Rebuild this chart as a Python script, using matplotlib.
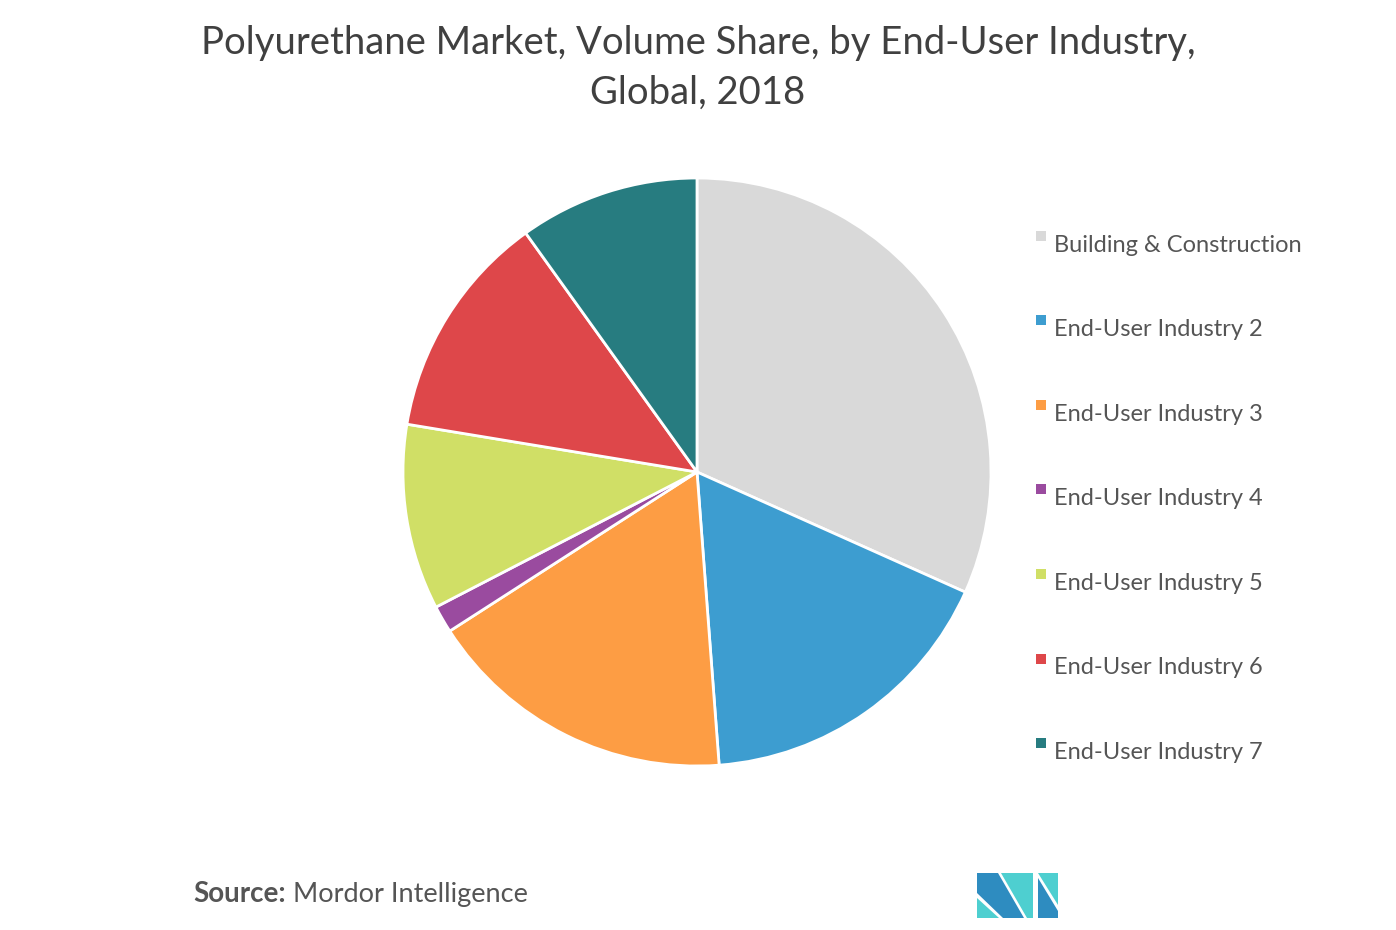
import matplotlib
matplotlib.use("Agg")
import matplotlib.pyplot as plt
from matplotlib.patches import Rectangle, Polygon

# --- data ---
labels = ['Building & Construction', 'End-User Industry 2', 'End-User Industry 3',
          'End-User Industry 4', 'End-User Industry 5', 'End-User Industry 6',
          'End-User Industry 7']
shares = [31.7, 17.1, 17.1, 1.5, 10.2, 12.5, 9.9]
colors = ['#D9D9D9', '#3D9DD0', '#FD9D44', '#9A4B9F', '#D0DF66', '#DE474A', '#277C80']

plt.rcParams['font.family'] = ['Lato', 'DejaVu Sans']

W, H = 1396, 930
fig = plt.figure(figsize=(W / 100, H / 100), dpi=100)
fig.patch.set_facecolor('white')

# --- pie ---
cx, cy, r = 697, 472, 294
ax = fig.add_axes([(cx - r) / W, (H - cy - r) / H, 2 * r / W, 2 * r / H])
ax.pie(shares, colors=colors, startangle=90, counterclock=False, radius=1,
       wedgeprops=dict(edgecolor='white', linewidth=2))
ax.set_xlim(-1, 1)
ax.set_ylim(-1, 1)
ax.set_aspect('equal')
ax.axis('off')

# --- title ---
fig.text(0.5, 1 - 43 / H, 'Polyurethane Market, Volume Share, by End-User Industry,',
         ha='center', va='center', fontsize=27.5, color='#404040')
fig.text(0.5, 1 - 93 / H, 'Global, 2018',
         ha='center', va='center', fontsize=27.5, color='#404040')

# --- legend ---
for i, (lab, col) in enumerate(zip(labels, colors)):
    y = 245 + i * 84.5
    fig.patches.append(Rectangle((1036 / W, 1 - (y - 4) / H), 10 / W, 10 / H,
                                 transform=fig.transFigure, facecolor=col,
                                 edgecolor='none'))
    fig.text(1054 / W, 1 - y / H, lab, ha='left', va='center',
             fontsize=17, color='#555555')

# --- source ---
src = fig.text(193 / W, 1 - 894 / H, 'Source:', ha='left', va='center',
               fontsize=20, color='#555555', fontweight='bold')
fig.canvas.draw()
bb = src.get_window_extent()
fig.text(bb.x1 / W + 7 / W, 1 - 894 / H, 'Mordor Intelligence', ha='left', va='center',
         fontsize=19.5, color='#555555')

# --- logo ---
def px(pts):
    return [(x / W, 1 - y / H) for x, y in pts]

logo = [
    ([(977, 873), (998, 873), (1024, 918), (1003, 918), (977, 893)], '#2E8CC0'),
    ([(977, 898), (999, 918), (977, 918)], '#4ECFD0'),
    ([(1001, 873), (1033, 873), (1033, 918), (1027, 918)], '#4ECFD0'),
    ([(1038, 873), (1058, 873), (1058, 905)], '#4ECFD0'),
    ([(1038, 878), (1058, 911), (1058, 918), (1038, 918)], '#2E8CC0'),
]
for pts, col in logo:
    fig.patches.append(Polygon(px(pts), closed=True, transform=fig.transFigure,
                               facecolor=col, edgecolor='none'))

fig.savefig('out.png', dpi=100, facecolor='white')
